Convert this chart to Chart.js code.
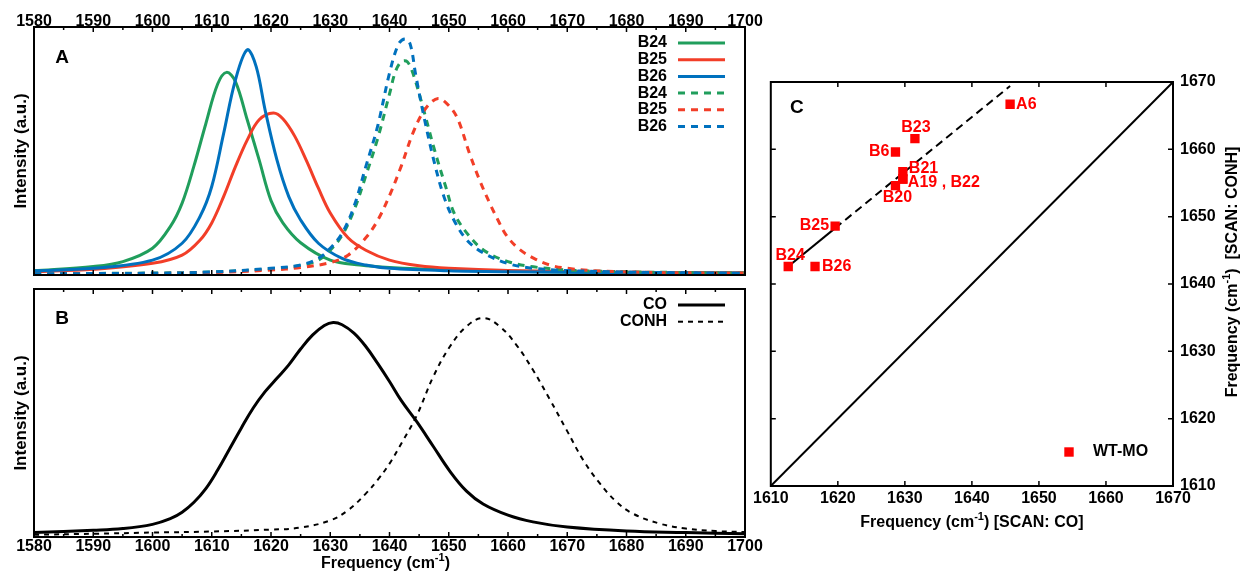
<!DOCTYPE html>
<html lang="en">
<head>
<meta charset="UTF-8">
<title>Amide I spectra: SCAN CO vs SCAN CONH</title>
<script src="https://cdn.jsdelivr.net/npm/chart.js"></script>
<style>
  body { margin: 0; width: 1244px; height: 571px; overflow: hidden; background: #fff; position: relative; }
  .panel { position: absolute; }
</style>
</head>
<body>
<div class="panel" style="left:0;top:0"><canvas id="chartA" width="770" height="285"></canvas></div>
<div class="panel" style="left:0;top:285px"><canvas id="chartB" width="770" height="300"></canvas></div>
<div class="panel" style="left:750px;top:60px"><canvas id="chartC" width="494" height="511"></canvas></div>

<script>
// ---------- panel A : single residues, solid = SCAN CO, dashed = SCAN CONH ----------
const freqB24 = [1580, 1590, 1595, 1600, 1603, 1605, 1607, 1609, 1611, 1612.5, 1614, 1616, 1618, 1620, 1622, 1625, 1630, 1635, 1640, 1650, 1660, 1680, 1700];
const solidB24 = [0.017, 0.034, 0.054, 0.108, 0.195, 0.29, 0.44, 0.61, 0.77, 0.817, 0.78, 0.625, 0.464, 0.30, 0.21, 0.13, 0.06, 0.04, 0.03, 0.02, 0.015, 0.01, 0.008];

const freqB25 = [1580, 1590, 1600, 1605, 1608, 1610, 1612, 1614, 1616, 1618, 1620.4, 1622, 1624, 1626, 1628, 1630, 1633, 1636, 1640, 1645, 1650, 1660, 1680, 1700];
const solidB25 = [0.013, 0.023, 0.047, 0.08, 0.14, 0.21, 0.316, 0.437, 0.545, 0.626, 0.653, 0.63, 0.56, 0.46, 0.35, 0.25, 0.15, 0.10, 0.06, 0.037, 0.027, 0.018, 0.011, 0.008];

const freqB26 = [1580, 1590, 1600, 1605, 1608, 1610, 1612, 1614, 1616, 1617.5, 1619, 1621, 1623, 1625, 1628, 1632, 1636, 1640, 1650, 1660, 1680, 1700];
const solidB26 = [0.017, 0.027, 0.06, 0.128, 0.235, 0.357, 0.57, 0.787, 0.908, 0.84, 0.666, 0.464, 0.316, 0.222, 0.128, 0.067, 0.04, 0.027, 0.017, 0.013, 0.009, 0.007];

const freqB24d = [1580, 1600, 1610, 1620, 1625, 1628, 1630, 1632, 1634, 1636, 1638, 1640, 1641, 1642, 1643, 1644, 1645.6, 1647.6, 1649.5, 1650.9, 1653.1, 1655.9, 1660, 1664.3, 1670, 1680, 1690, 1700];
const dashB24 = [0.005, 0.008, 0.012, 0.025, 0.038, 0.06, 0.1, 0.16, 0.26, 0.4, 0.55, 0.73, 0.82, 0.86, 0.86, 0.81, 0.68, 0.504, 0.355, 0.25, 0.168, 0.10, 0.054, 0.033, 0.02, 0.013, 0.01, 0.008];

const freqB25d = [1580, 1600, 1610, 1620, 1625, 1630, 1633, 1636, 1638, 1640, 1642, 1644, 1646, 1648.2, 1650.2, 1651.6, 1653.5, 1655.2, 1656.9, 1658.3, 1659.7, 1661.7, 1664.3, 1667.1, 1670, 1675.6, 1685, 1700];
const dashB25 = [0.004, 0.006, 0.01, 0.02, 0.03, 0.05, 0.08, 0.15, 0.22, 0.32, 0.44, 0.575, 0.668, 0.712, 0.678, 0.625, 0.49, 0.383, 0.29, 0.222, 0.161, 0.108, 0.068, 0.04, 0.027, 0.016, 0.01, 0.008];

const freqB26d = [1580, 1600, 1610, 1620, 1625, 1628, 1630, 1632, 1634, 1636, 1638, 1640, 1641.5, 1642.6, 1643.5, 1644.4, 1645.8, 1647.5, 1649.2, 1650.9, 1653.1, 1655.9, 1660, 1664.3, 1670, 1680, 1690, 1700];
const dashB26 = [0.005, 0.007, 0.012, 0.027, 0.04, 0.067, 0.108, 0.168, 0.276, 0.437, 0.6, 0.814, 0.93, 0.952, 0.93, 0.81, 0.64, 0.46, 0.315, 0.22, 0.14, 0.088, 0.046, 0.027, 0.018, 0.012, 0.009, 0.007];

// ---------- panel B : whole protein ----------
const freqCO = [1580, 1590, 1595, 1600, 1603, 1605, 1607, 1609, 1611, 1613, 1615, 1617, 1619, 1621, 1623, 1625, 1627, 1629, 1630.5, 1632, 1634, 1636, 1638, 1640, 1642, 1644.6, 1647.4, 1650.2, 1653, 1655.8, 1660, 1664.2, 1670, 1680, 1690, 1700];
const intCO = [0.018, 0.027, 0.034, 0.051, 0.074, 0.10, 0.14, 0.195, 0.27, 0.355, 0.44, 0.52, 0.586, 0.64, 0.694, 0.758, 0.814, 0.853, 0.865, 0.856, 0.822, 0.768, 0.70, 0.627, 0.55, 0.465, 0.365, 0.265, 0.185, 0.133, 0.088, 0.061, 0.04, 0.024, 0.018, 0.013];

const freqCONH = [1580, 1590, 1600, 1610, 1620, 1625, 1630, 1633, 1636, 1638, 1640, 1642, 1644.6, 1647.4, 1650.2, 1653, 1655.8, 1658.6, 1661.4, 1664.2, 1667.1, 1669.9, 1672.7, 1675.5, 1678.3, 1681.1, 1685.6, 1690, 1695, 1700];
const intCONH = [0.009, 0.013, 0.018, 0.022, 0.03, 0.038, 0.067, 0.108, 0.175, 0.23, 0.296, 0.377, 0.49, 0.647, 0.768, 0.849, 0.883, 0.849, 0.775, 0.674, 0.553, 0.431, 0.31, 0.216, 0.142, 0.094, 0.054, 0.034, 0.024, 0.02];

// ---------- panel C : peak positions, CO scan vs CONH scan ----------
const residueNames = ['A6', 'B23', 'B6', 'B21', 'A19', 'B22', 'B20', 'B25', 'B24', 'B26'];
const peakCO =   [1645.7, 1631.5, 1628.6, 1629.7, 1629.7, 1629.7, 1628.6, 1619.6, 1612.6, 1616.6];
const peakCONH = [1666.7, 1661.6, 1659.6, 1656.7, 1655.6, 1655.6, 1654.6, 1648.6, 1642.6, 1642.6];
const fitX = [1612.6, 1619.6, 1645.7];
const fitY = [1642.6, 1648.3, 1669.4];
const diagX = [1610, 1670];
const diagY = [1610, 1670];

const FONT = '"Liberation Sans", Arial, Helvetica, sans-serif';
Chart.defaults.font.family = FONT;
Chart.defaults.font.size = 16;
Chart.defaults.font.weight = 'bold';
Chart.defaults.color = '#000';

const GREEN = 'rgb(32,158,92)', RED = 'rgb(242,62,40)', BLUE = 'rgb(0,113,190)';

function pts(xs, ys) {
  return xs.map((x, i) => ({x: x, y: ys[i]}));
}

// box around the plot with inward tics (gnuplot look)
const framePlugin = {
  id: 'frame',
  afterDatasetsDraw(chart, args, opts) {
    const {ctx, chartArea: a} = chart;
    const xs = chart.scales.x, ys = chart.scales.y;
    ctx.save();
    ctx.strokeStyle = '#000';
    ctx.lineWidth = 1.5;
    ctx.beginPath();
    if (opts.xStep) {
      for (let v = xs.min + opts.xStep; v < xs.max; v += opts.xStep) {
        const px = xs.getPixelForValue(v);
        const len = (v % opts.xMajor === 0) ? 5 : 3;
        ctx.moveTo(px, a.top); ctx.lineTo(px, a.top + len);
        ctx.moveTo(px, a.bottom); ctx.lineTo(px, a.bottom - len);
      }
    }
    if (opts.yStep) {
      for (let v = ys.min + opts.yStep; v < ys.max; v += opts.yStep) {
        const py = ys.getPixelForValue(v);
        ctx.moveTo(a.left, py); ctx.lineTo(a.left + 5, py);
        ctx.moveTo(a.right, py); ctx.lineTo(a.right - 5, py);
      }
    }
    ctx.stroke();
    ctx.lineWidth = 2;
    ctx.strokeRect(a.left, a.top, a.right - a.left, a.bottom - a.top);
    ctx.restore();
  }
};

// "Frequency (cm^-1)" with a real superscript
function drawFreqTitle(ctx, x, y, suffix, rotate) {
  const parts = [['Frequency (cm', 'bold 16px ' + FONT, 0], ['-1', 'bold 11px ' + FONT, -6], [')' + suffix, 'bold 16px ' + FONT, 0]];
  ctx.save();
  ctx.translate(x, y);
  if (rotate) ctx.rotate(-Math.PI / 2);
  ctx.textBaseline = 'middle';
  ctx.fillStyle = '#000';
  let w = 0;
  parts.forEach(p => { ctx.font = p[1]; w += ctx.measureText(p[0]).width; });
  let cx = -w / 2;
  parts.forEach(p => {
    ctx.font = p[1];
    ctx.fillText(p[0], cx, p[2]);
    cx += ctx.measureText(p[0]).width;
  });
  ctx.restore();
}

// legend with the label on the left and the line sample on the right
function drawKey(chart, top) {
  const {ctx, chartArea: a} = chart;
  ctx.save();
  ctx.font = 'bold 16px ' + FONT;
  ctx.textAlign = 'right';
  ctx.textBaseline = 'middle';
  chart.data.datasets.forEach((ds, i) => {
    const y = a.top + top + i * 16.7;
    ctx.fillStyle = '#000';
    ctx.fillText(ds.label, a.right - 78, y);
    ctx.strokeStyle = ds.borderColor;
    ctx.lineWidth = ds.borderWidth;
    ctx.setLineDash(ds.borderDash || []);
    ctx.beginPath();
    ctx.moveTo(a.right - 67, y);
    ctx.lineTo(a.right - 20, y);
    ctx.stroke();
  });
  ctx.restore();
}

function panelLetter(chart, text, dx, dy) {
  const {ctx, chartArea: a} = chart;
  ctx.save();
  ctx.font = 'bold 19px ' + FONT;
  ctx.fillStyle = '#000';
  ctx.textAlign = 'center';
  ctx.textBaseline = 'middle';
  ctx.fillText(text, a.left + dx, a.top + dy);
  ctx.restore();
}

function spectrumScales(xPos, xHeight) {
  return {
    x: {
      type: 'linear', position: xPos, min: 1580, max: 1700,
      grid: {display: false, drawTicks: false}, border: {display: false},
      ticks: {stepSize: 10, autoSkip: false, maxRotation: 0, padding: xPos === 'top' ? -4 : 0, callback: v => v},
      afterFit: s => { s.height = xHeight; }
    },
    y: {
      min: 0, max: 1,
      grid: {display: false, drawTicks: false}, border: {display: false},
      ticks: {display: false},
      title: {display: true, text: 'Intensity (a.u.)', font: {size: 17}, padding: {top: 11, bottom: 0}},
      afterFit: s => { s.width = 34; }
    }
  };
}

function line(label, xs, ys, color, dashed, order) {
  return {
    label: label, data: pts(xs, ys), borderColor: color,
    borderWidth: 3, borderDash: dashed ? [7, 6] : [],
    pointRadius: 0, tension: 0.35, fill: false, order: order
  };
}

new Chart(document.getElementById('chartA'), {
  type: 'line',
  data: {
    datasets: [
      line('B24', freqB24, solidB24, GREEN, false, 6),
      line('B25', freqB25, solidB25, RED, false, 5),
      line('B26', freqB26, solidB26, BLUE, false, 4),
      line('B24', freqB24d, dashB24, GREEN, true, 3),
      line('B25', freqB25d, dashB25, RED, true, 2),
      line('B26', freqB26d, dashB26, BLUE, true, 1)
    ]
  },
  options: {
    responsive: false, animation: false, events: [],
    layout: {padding: {top: 0, right: 25, bottom: 10, left: 0}},
    scales: spectrumScales('top', 27),
    plugins: {
      legend: {display: false}, tooltip: {enabled: false},
      frame: {xStep: 5, xMajor: 10}
    }
  },
  plugins: [framePlugin, {
    id: 'decorA',
    afterDraw(chart) {
      drawKey(chart, 16);
      panelLetter(chart, 'A', 28, 31);
    }
  }]
});

new Chart(document.getElementById('chartB'), {
  type: 'line',
  data: {
    datasets: [
      {label: 'CO', data: pts(freqCO, intCO), borderColor: '#000', borderWidth: 3, pointRadius: 0, tension: 0.4},
      {label: 'CONH', data: pts(freqCONH, intCONH), borderColor: '#000', borderWidth: 2, borderDash: [5, 5], pointRadius: 0, tension: 0.4}
    ]
  },
  options: {
    responsive: false, animation: false, events: [],
    layout: {padding: {top: 4, right: 25, bottom: 0, left: 0}},
    scales: spectrumScales('bottom', 48),
    plugins: {
      legend: {display: false}, tooltip: {enabled: false},
      frame: {xStep: 5, xMajor: 10}
    }
  },
  plugins: [framePlugin, {
    id: 'decorB',
    afterDraw(chart) {
      const a = chart.chartArea;
      drawKey(chart, 16);
      panelLetter(chart, 'B', 28, 30);
      drawFreqTitle(chart.ctx, (a.left + a.right) / 2 - 4, a.bottom + 27, '', false);
    }
  }]
});

// where each residue name sits relative to its marker
const labelSpot = {
  A6: {dx: 6, dy: 0, align: 'left'},
  B23: {dx: 1, dy: -11, align: 'center'},
  B6: {dx: -6, dy: 0, align: 'right'},
  B21: {dx: 6, dy: -3, align: 'left'},
  A19: {dx: 5, dy: 4, align: 'left', text: 'A19 , B22'},
  B20: {dx: 2, dy: 12, align: 'center'},
  B25: {dx: -6, dy: 0, align: 'right'},
  B24: {dx: 2, dy: -11, align: 'center'},
  B26: {dx: 7, dy: 0, align: 'left'}
};

new Chart(document.getElementById('chartC'), {
  type: 'scatter',
  data: {
    datasets: [
      {label: 'WT-MO', data: pts(peakCO, peakCONH), pointStyle: 'rect', pointRadius: 6.6, backgroundColor: '#ff0000', borderWidth: 0, order: 1},
      {label: 'fit', data: pts(fitX, fitY), showLine: true, borderColor: '#000', borderWidth: 2, pointRadius: 0,
        segment: {borderDash: ctx => ctx.p0DataIndex === 0 ? [] : [8, 5]}, order: 2},
      {label: 'diag', data: pts(diagX, diagY), showLine: true, borderColor: '#000', borderWidth: 2, pointRadius: 0, order: 3}
    ]
  },
  options: {
    responsive: false, animation: false, events: [],
    layout: {padding: {top: 22, right: 0, bottom: 0, left: 18}},
    scales: {
      x: {
        type: 'linear', min: 1610, max: 1670,
        grid: {display: false, drawTicks: false}, border: {display: false},
        ticks: {stepSize: 10, autoSkip: false, maxRotation: 0, padding: 3, callback: v => v},
        afterFit: s => { s.height = 85; }
      },
      y: {
        position: 'right', min: 1610, max: 1670,
        grid: {display: false, drawTicks: false}, border: {display: false},
        ticks: {stepSize: 10, padding: 7, callback: v => v},
        afterFit: s => { s.width = 71; }
      }
    },
    plugins: {
      legend: {display: false}, tooltip: {enabled: false},
      frame: {xStep: 10, xMajor: 10, yStep: 10}
    }
  },
  plugins: [framePlugin, {
    id: 'decorC',
    afterDraw(chart) {
      const {ctx, chartArea: a} = chart;
      const meta = chart.getDatasetMeta(0);
      ctx.save();
      ctx.font = 'bold 16px ' + FONT;
      ctx.fillStyle = '#ff0000';
      ctx.textBaseline = 'middle';
      residueNames.forEach((name, i) => {
        const spot = labelSpot[name];
        if (!spot) return;
        const el = meta.data[i];
        ctx.textAlign = spot.align;
        ctx.fillText(spot.text || name, el.x + spot.dx, el.y + spot.dy);
      });
      // key
      const ky = a.bottom - 34;
      ctx.fillRect(a.right - 104 - 4.7, ky - 4.7, 9.4, 9.4);
      ctx.fillStyle = '#000';
      ctx.textAlign = 'left';
      ctx.fillText(chart.data.datasets[0].label, a.right - 80, ky);
      ctx.restore();
      panelLetter(chart, 'C', 26, 26);
      drawFreqTitle(ctx, (a.left + a.right) / 2, a.bottom + 37, ' [SCAN: CO]', false);
      drawFreqTitle(ctx, a.right + 60, (a.top + a.bottom) / 2 - 12, '  [SCAN: CONH]', true);
    }
  }]
});
</script>
</body>
</html>
